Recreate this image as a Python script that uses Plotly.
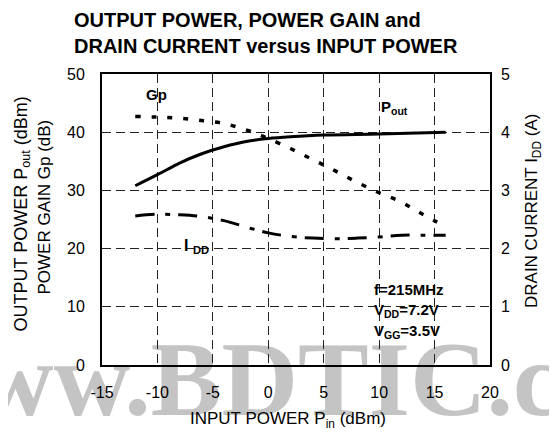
import plotly.graph_objects as go

# ---- data ----
pin_pout = [-12, -10, -8, -6, -4, -2, 0, 2, 5, 10, 16]
pout = [30.8, 32.7, 34.7, 36.3, 37.5, 38.4, 38.9, 39.2, 39.5, 39.7, 40.0]

pin_gp = [-12, -10, -8, -6, -4, -2, -1, 0, 2, 4, 6, 8, 10, 12, 14, 16]
gp = [42.7, 42.6, 42.4, 42.0, 41.5, 40.4, 39.7, 38.9, 37.2, 35.3, 33.4, 31.4, 29.6, 28.0, 25.8, 23.8]

pin_idd = [-12, -10, -8, -6, -4, -2, 0, 2, 4, 6, 8, 10, 12, 14, 16]
idd = [2.56, 2.59, 2.58, 2.55, 2.48, 2.37, 2.27, 2.21, 2.18, 2.17, 2.18, 2.20, 2.23, 2.23, 2.23]

x_ticks = [-15, -10, -5, 0, 5, 10, 15, 20]
x_tick_labels = ["-15", "-10", "-5", "0", "5", "10", "15", "20"]
y_left_ticks = [0, 10, 20, 30, 40, 50]
y_right_ticks = [0, 1, 2, 3, 4, 5]

SANS = "Liberation Sans, Arial, sans-serif"
OFF = 8  # page body margin
W, H = 557 - OFF, 436 - OFF
# plot area in page pixels
PL, PR, PT, PB = 102, 490, 74, 365
L, R, T, B = PL - OFF, W - (PR - OFF), PT - OFF, H - (PB - OFF)
PW, PH = PR - PL, PB - PT


def px(xp):
    return (xp - PL) / PW


def py(yp):
    return (PB - yp) / PH


fig = go.Figure()
fig.add_trace(go.Scatter(x=pin_pout, y=pout, mode="lines", line=dict(color="black", width=3, shape="spline"),
                         showlegend=False))
fig.add_trace(go.Scatter(x=pin_gp, y=gp, mode="lines",
                         line=dict(color="black", width=3.5, dash="5px,11px", shape="spline"), showlegend=False))
fig.add_trace(go.Scatter(x=pin_idd, y=idd, mode="lines", yaxis="y2",
                         line=dict(color="black", width=3, dash="19px,11px,5px,8px", shape="spline"),
                         showlegend=False))

grid = dict(showgrid=True, gridcolor="#222", gridwidth=1, griddash="9px,5px", zeroline=False,
            showline=True, linecolor="black", linewidth=2, ticks="", automargin=False,
            tickfont=dict(family=SANS, size=16, color="black"))

fig.update_layout(
    width=W, height=H, margin=dict(l=L, r=R, t=T, b=B, autoexpand=False),
    paper_bgcolor="white", plot_bgcolor="rgba(0,0,0,0)",
    xaxis=dict(range=[-15, 20], tickvals=x_ticks, ticktext=x_tick_labels, ticklabelstandoff=12,
               mirror=True, **grid),
    yaxis=dict(range=[0, 50], tickvals=y_left_ticks, ticklabelstandoff=12, mirror=True, **grid),
    yaxis2=dict(range=[0, 5], tickvals=y_right_ticks, overlaying="y", side="right", showgrid=False,
                zeroline=False, showline=False, ticks="", ticklabelstandoff=10, automargin=False,
                tickfont=dict(family=SANS, size=16, color="black")),
)

# watermark (drawn below the plot)
fig.add_shape(type="rect", xref="paper", yref="paper",
              x0=px(301) - 0.1, x1=px(301) + 0.1, y0=py(367) - 0.05, y1=py(367) + 0.05,
              line=dict(width=0), fillcolor="rgba(0,0,0,0)", layer="below",
              label=dict(text="<b>www.BDTIC.com</b>", textposition="middle center",
                         font=dict(family="Liberation Serif, Times New Roman, serif", size=106, color="#c4c4c4")))

ann = []
ann.append(dict(text="<b>OUTPUT POWER, POWER GAIN and<br>DRAIN CURRENT versus INPUT POWER</b>",
                xref="paper", yref="paper", x=px(72), y=py(33), xanchor="left", yanchor="middle",
                align="left", showarrow=False, font=dict(family=SANS, size=20, color="black")))
ann.append(dict(text="OUTPUT POWER P<sub>out</sub> (dBm)", xref="paper", yref="paper", x=px(21.5), y=py(214),
                textangle=-90, showarrow=False, xanchor="center", yanchor="middle",
                font=dict(family=SANS, size=18, color="black")))
ann.append(dict(text="POWER GAIN Gp (dB)", xref="paper", yref="paper", x=px(43.5), y=py(207),
                textangle=-90, showarrow=False, xanchor="center", yanchor="middle",
                font=dict(family=SANS, size=17, color="black")))
ann.append(dict(text="DRAIN CURRENT I<sub>DD</sub> (A)", xref="paper", yref="paper", x=px(533), y=py(211),
                textangle=-90, showarrow=False, xanchor="center", yanchor="middle",
                font=dict(family=SANS, size=17, color="black")))
ann.append(dict(text="INPUT POWER P<sub>in</sub> (dBm)", xref="paper", yref="paper", x=px(288), y=py(420),
                showarrow=False, xanchor="center", yanchor="middle",
                font=dict(family=SANS, size=17, color="black")))
# curve labels
ann.append(dict(text="<b>Gp</b>", x=-10.1, y=46.5, xref="x", yref="y", showarrow=False,
                font=dict(family=SANS, size=15, color="black")))
ann.append(dict(text="<b>P<sub>out</sub></b>", x=11.4, y=44.3, xref="x", yref="y", showarrow=False,
                font=dict(family=SANS, size=15, color="black")))
ann.append(dict(text="<b>I <sub>DD</sub></b>", x=-6.5, y=20.4, xref="x", yref="y", showarrow=False,
                font=dict(family=SANS, size=16, color="black")))
for txt, yv in [("f=215MHz", 12.9), ("V<sub>DD</sub>=7.2V", 9.28), ("V<sub>GG</sub>=3.5V", 5.84)]:
    ann.append(dict(text="<b>" + txt + "</b>", x=9.36, y=yv, xref="x", yref="y", xanchor="left",
                    yanchor="middle", showarrow=False, font=dict(family=SANS, size=15, color="black")))
fig.update_layout(annotations=ann)

fig.write_html("out.html")
